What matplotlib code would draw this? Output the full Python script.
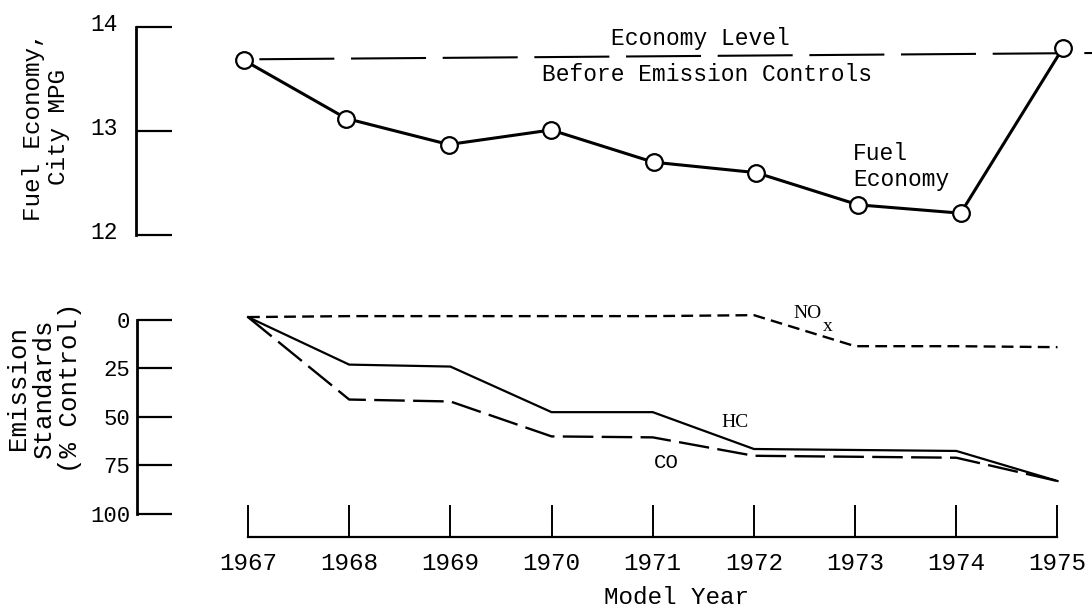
import matplotlib
matplotlib.use("Agg")
import matplotlib.pyplot as plt
from matplotlib.transforms import ScaledTranslation

plt.rcParams['font.family'] = ['Liberation Mono', 'DejaVu Sans Mono']
plt.rcParams['lines.scale_dashes'] = False

years = [1967, 1968, 1969, 1970, 1971, 1972, 1973, 1974, 1975]
year_labels = [str(y) for y in years]

# fuel economy, city mpg
fuel_mpg = [13.68, 13.12, 12.87, 13.01, 12.70, 12.60, 12.29, 12.21, 13.80]
econ_x = [1967.15, 1975.3]
econ_y = [13.69, 13.75]

# emission standards, % control
hc = [-1.5, 23, 24, 47.5, 47.5, 66.5, 67, 67.5, 83]
co = [-1.5, 41, 42, 60, 60.5, 70, 70.5, 71, 83]
nox = [-1.5, -2, -2, -2, -2, -2.5, 13.5, 13.5, 14]

mpg_ticks = [12, 13, 14]
pct_ticks = [0, 25, 50, 75, 100]

W, H = 1092, 607
fig = plt.figure(figsize=(W / 100, H / 100), dpi=100)

# ---- top panel: fuel economy
ax1 = fig.add_axes([136 / W, 1 - 235 / H, (W - 136) / W, (235 - 27) / H])
ax1.set_xlim(1965.945, 1975.283)
ax1.set_ylim(12, 14)
for s in ['top', 'right', 'bottom']:
    ax1.spines[s].set_visible(False)
ax1.spines['left'].set_linewidth(2)
ax1.set_xticks([])
ax1.set_yticks(mpg_ticks)
ax1.tick_params(axis='y', direction='in', length=26, width=1.6, pad=13, labelsize=16.5)
for lab in ax1.get_yticklabels():
    lab.set_transform(lab.get_transform() + ScaledTranslation(0, 0.05, fig.dpi_scale_trans))

ax1.plot(econ_x, econ_y, color='black', lw=1.5, dashes=(54, 12), zorder=2)
ax1.plot(years, fuel_mpg, color='black', lw=2.2, marker='o', markersize=12,
         mfc='white', mec='black', mew=1.6, zorder=3, clip_on=False)

ax1.text(1971.46, 13.885, "Economy Level", ha='center', va='center', fontsize=16.5)
ax1.text(1971.52, 13.54, "Before Emission Controls", ha='center', va='center', fontsize=16.5)
ax1.text(1972.95, 12.66, "Fuel\nEconomy", ha='left', va='center', fontsize=16.5,
         linespacing=1.2)

# ---- bottom panel: emission standards
ax2 = fig.add_axes([137 / W, 1 - 537 / H, (W - 137) / W, (537 - 300) / H])
ax2.set_xlim(1965.903, 1975.341)
ax2.set_ylim(111.86, -10.31)
for s in ['top', 'right']:
    ax2.spines[s].set_visible(False)
ax2.spines['left'].set_bounds(0, 100)
ax2.spines['left'].set_linewidth(2)
ax2.spines['bottom'].set_bounds(1967, 1975)
ax2.spines['bottom'].set_linewidth(1.6)
ax2.set_yticks(pct_ticks)
ax2.set_yticklabels([str(v) for v in pct_ticks])
ax2.set_xticks(years)
ax2.set_xticklabels(year_labels)
ax2.tick_params(axis='y', direction='in', length=25, width=1.6, pad=5, labelsize=16)
ax2.tick_params(axis='x', direction='in', length=23, width=1.4, pad=11, labelsize=17.5)

ax2.plot(years, hc, color='black', lw=1.6, zorder=3)
ax2.plot(years, co, color='black', lw=1.7, dashes=(22, 6), zorder=3)
ax2.plot(years, nox, color='black', lw=1.7, dashes=(8.5, 4.5), zorder=3)

ax2.text(1972.524, -3.6, "NO", ha='center', va='center', fontsize=14,
         family=['Liberation Serif', 'DejaVu Serif'])
ax2.text(1972.732, 3.6, "x", ha='center', va='center', fontsize=14,
         family=['Liberation Serif', 'DejaVu Serif'])
ax2.text(1971.813, 52.6, "HC", ha='center', va='center', fontsize=14,
         family=['Liberation Serif', 'DejaVu Serif'])
ax2.text(1971.131, 73.7, "CO", ha='center', va='center', fontsize=15)

# ---- labels
fig.text(46 / W, 1 - 127 / H, "Fuel Economy,\nCity MPG", rotation=90,
         ha='center', va='center', multialignment='center', fontsize=17.5,
         linespacing=1.15)
fig.text(44 / W, 1 - 388 / H, "Emission\nStandards\n(% Control)", rotation=90,
         ha='center', va='center', multialignment='center', fontsize=18.5,
         linespacing=1.08)
fig.text(677 / W, 1 - 597 / H, "Model Year", ha='center', va='center', fontsize=17.5)

fig.savefig("out.png", dpi=100)
